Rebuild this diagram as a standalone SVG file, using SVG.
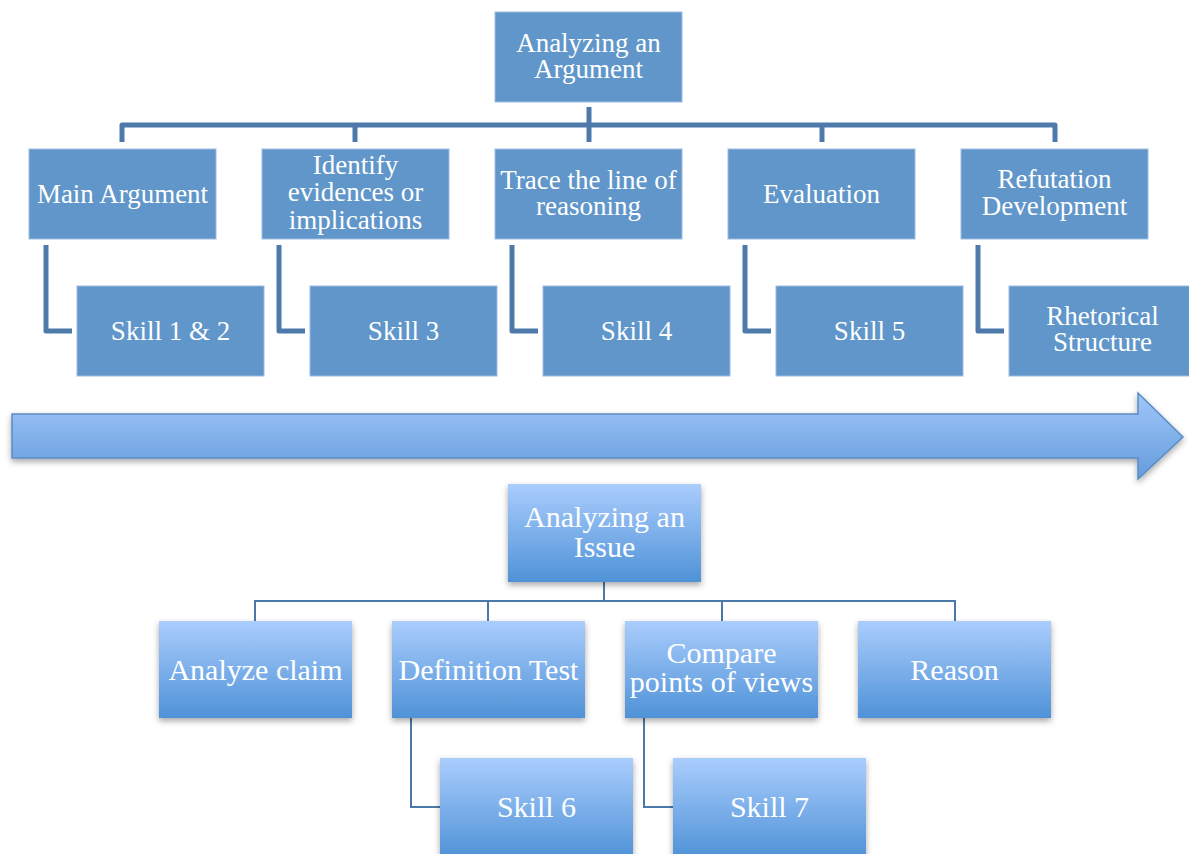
<svg xmlns="http://www.w3.org/2000/svg" width="1189" height="854" viewBox="0 0 1189 854">
<style>
.flat{fill:#6096c9;stroke:#9dbde2;stroke-width:1}
.grad{fill:url(#boxg);filter:url(#sh)}
.t{font-family:"Liberation Serif","DejaVu Serif",serif;fill:#ffffff;text-anchor:middle}
.t1{font-size:27px}
.t2{font-size:30px}
.thick{fill:none;stroke:#4d7aab;stroke-width:5;stroke-linejoin:round;stroke-linecap:butt}
.thin{fill:none;stroke:#4a78a8;stroke-width:2}
</style>
<defs>
<linearGradient id="boxg" x1="0" y1="0" x2="0" y2="1">
<stop offset="0" stop-color="#aacdfd"/>
<stop offset="1" stop-color="#4f92d7"/>
</linearGradient>
<linearGradient id="arrg" x1="0" y1="0" x2="0" y2="1">
<stop offset="0" stop-color="#a0c7f8"/>
<stop offset="1" stop-color="#649cdc"/>
</linearGradient>
<filter id="sh" x="-10%" y="-10%" width="120%" height="130%">
<feDropShadow dx="0" dy="3" stdDeviation="3" flood-color="#000" flood-opacity="0.35"/>
</filter>
</defs>
<rect width="1189" height="854" fill="#ffffff"/>

<g id="connectors">
<path class="thick" d="M589,107 V142"/>
<path class="thick" d="M122,142 V125 H1055 V142"/>
<path class="thick" d="M355,125 V142"/>
<path class="thick" d="M822,125 V142"/>
<path class="thick" d="M46,245 V331 H72"/>
<path class="thick" d="M279,245 V331 H305"/>
<path class="thick" d="M512,245 V331 H538"/>
<path class="thick" d="M745,245 V331 H771"/>
<path class="thick" d="M978,245 V331 H1004"/>
<path class="thin" d="M604,582 V601"/>
<path class="thin" d="M255,621 V601 H955 V621"/>
<path class="thin" d="M488,601 V621"/>
<path class="thin" d="M722,601 V621"/>
<path class="thin" d="M411,718 V807 H440"/>
<path class="thin" d="M644,718 V807 H673"/>
</g>

<g id="n-argument">
<rect class="flat" x="495" y="12" width="187" height="90"/>
<text class="t t1" x="588.5" y="52">Analyzing an</text>
<text class="t t1" x="588.5" y="78">Argument</text>
</g>
<g id="n-main">
<rect class="flat" x="29" y="149" width="187" height="90"/>
<text class="t t1" x="122.5" y="203">Main Argument</text>
</g>
<g id="n-identify">
<rect class="flat" x="262" y="149" width="187" height="90"/>
<text class="t t1" x="355.5" y="174">Identify</text>
<text class="t t1" x="355.5" y="201">evidences or</text>
<text class="t t1" x="355.5" y="229">implications</text>
</g>
<g id="n-trace">
<rect class="flat" x="495" y="149" width="187" height="90"/>
<text class="t t1" x="588.5" y="189">Trace the line of</text>
<text class="t t1" x="588.5" y="215">reasoning</text>
</g>
<g id="n-evaluation">
<rect class="flat" x="728" y="149" width="187" height="90"/>
<text class="t t1" x="821.5" y="203">Evaluation</text>
</g>
<g id="n-refutation">
<rect class="flat" x="961" y="149" width="187" height="90"/>
<text class="t t1" x="1054.5" y="188">Refutation</text>
<text class="t t1" x="1054.5" y="215">Development</text>
</g>
<g id="n-skill12">
<rect class="flat" x="77" y="286" width="187" height="90"/>
<text class="t t1" x="170.5" y="340">Skill 1 &amp; 2</text>
</g>
<g id="n-skill3">
<rect class="flat" x="310" y="286" width="187" height="90"/>
<text class="t t1" x="403.5" y="340">Skill 3</text>
</g>
<g id="n-skill4">
<rect class="flat" x="543" y="286" width="187" height="90"/>
<text class="t t1" x="636.5" y="340">Skill 4</text>
</g>
<g id="n-skill5">
<rect class="flat" x="776" y="286" width="187" height="90"/>
<text class="t t1" x="869.5" y="340">Skill 5</text>
</g>
<g id="n-rhetorical">
<rect class="flat" x="1009" y="286" width="187" height="90"/>
<text class="t t1" x="1102.5" y="325">Rhetorical</text>
<text class="t t1" x="1102.5" y="351">Structure</text>
</g>

<g id="arrow">
<polygon points="12,414 1138,414 1138,393 1183,437 1138,479 1138,458 12,458" fill="url(#arrg)" stroke="#5a8bc6" stroke-width="1.5" filter="url(#sh)"/>
</g>

<g id="n-issue">
<rect class="grad" x="508" y="484" width="193" height="98"/>
<text class="t t2" x="604.5" y="527">Analyzing an</text>
<text class="t t2" x="604.5" y="557">Issue</text>
</g>
<g id="n-claim">
<rect class="grad" x="159" y="621" width="193" height="97"/>
<text class="t t2" x="255.5" y="680">Analyze claim</text>
</g>
<g id="n-definition">
<rect class="grad" x="392" y="621" width="193" height="97"/>
<text class="t t2" x="488.5" y="680">Definition Test</text>
</g>
<g id="n-compare">
<rect class="grad" x="625" y="621" width="193" height="97"/>
<text class="t t2" x="721.5" y="663">Compare</text>
<text class="t t2" x="721.5" y="692">points of views</text>
</g>
<g id="n-reason">
<rect class="grad" x="858" y="621" width="193" height="97"/>
<text class="t t2" x="954.5" y="680">Reason</text>
</g>
<g id="n-skill6">
<rect class="grad" x="440" y="758" width="193" height="100"/>
<text class="t t2" x="536.5" y="817">Skill 6</text>
</g>
<g id="n-skill7">
<rect class="grad" x="673" y="758" width="193" height="100"/>
<text class="t t2" x="769.5" y="817">Skill 7</text>
</g>
</svg>
